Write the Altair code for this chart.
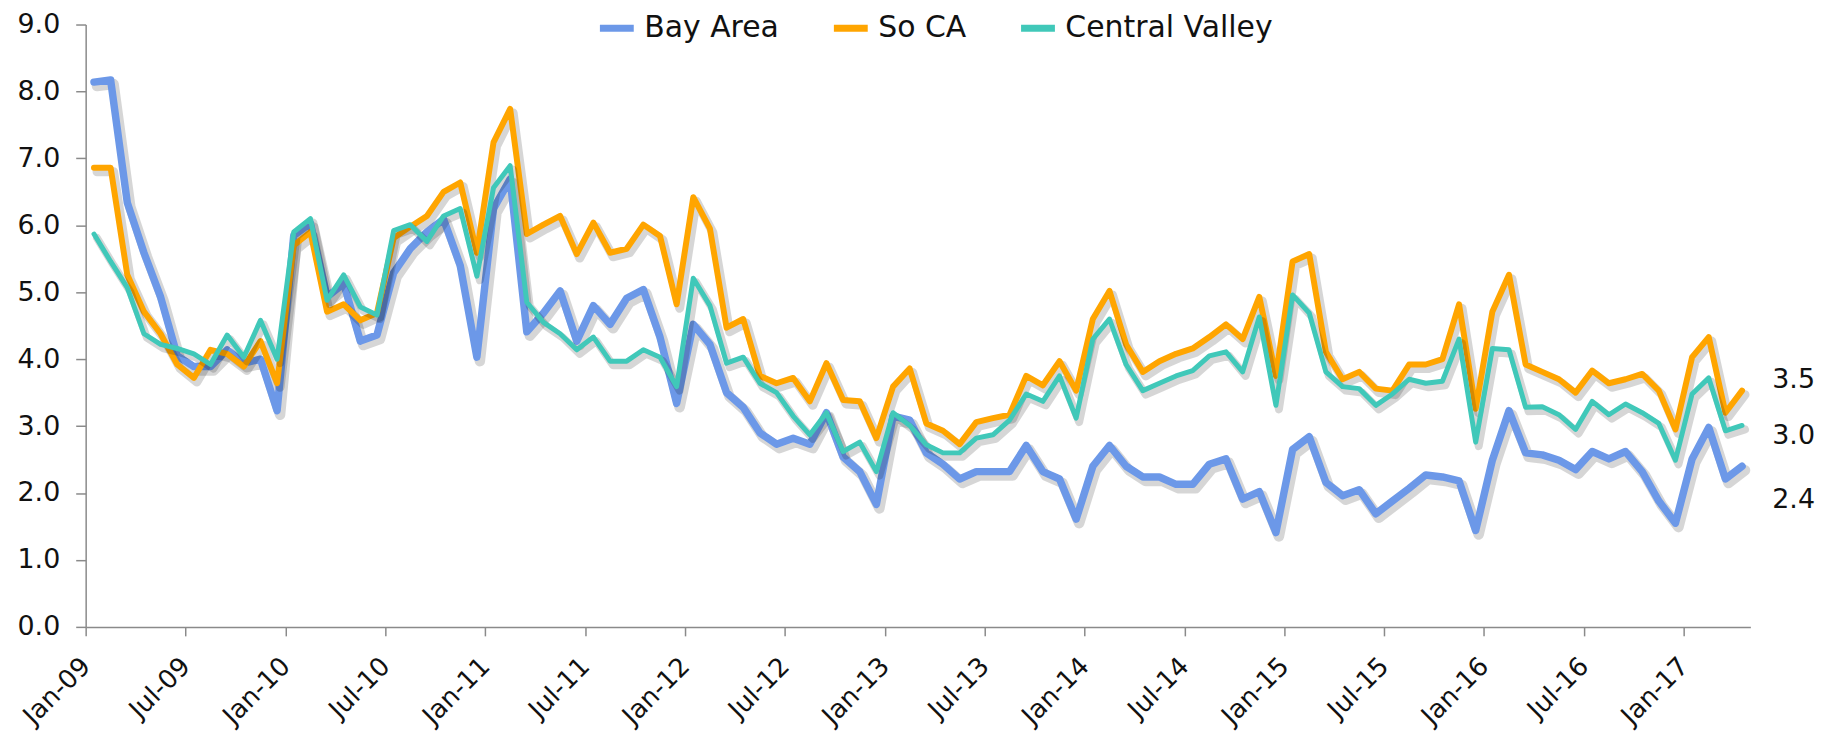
import json
import altair as alt
import pandas as pd

SERIES = ["Bay Area", "So CA", "Central Valley"]
COLORS = ["#6C98E8", "#FFA500", "#40C8B9"]
WIDTHS = [7.5, 6.0, 5.0]

BAY = [8.14, 8.17, 6.34, 5.59, 4.93, 4.05, 3.89, 3.89, 4.14, 3.94, 4.00, 3.23, 5.85, 6.03, 4.93, 5.13, 4.27,
       4.36, 5.29, 5.65, 5.90, 6.09, 5.40, 4.03, 6.25, 6.69, 4.41, 4.69, 5.02, 4.27, 4.80, 4.52, 4.91, 5.04,
       4.33, 3.34, 4.52, 4.22, 3.50, 3.28, 2.90, 2.73, 2.82, 2.73, 3.20, 2.54, 2.32, 1.83, 3.15, 3.09, 2.60,
       2.43, 2.21, 2.32, 2.32, 2.32, 2.71, 2.32, 2.21, 1.61, 2.40, 2.71, 2.40, 2.24, 2.24, 2.13, 2.13, 2.43,
       2.51, 1.91, 2.02, 1.41, 2.65, 2.84, 2.16, 1.96, 2.05, 1.69, 1.88, 2.07, 2.27, 2.24, 2.18, 1.44,
       2.49, 3.23, 2.60, 2.57, 2.49, 2.35, 2.62, 2.51, 2.62, 2.32, 1.88, 1.55, 2.51, 2.98, 2.21, 2.40]

SOCA = [6.86, 6.86, 5.26, 4.71, 4.38, 3.92, 3.72, 4.14, 4.08, 3.89, 4.27, 3.64, 5.70, 5.90, 4.71, 4.82, 4.58,
        4.69, 5.81, 5.98, 6.14, 6.50, 6.64, 5.59, 7.24, 7.74, 5.87, 6.01, 6.14, 5.57, 6.04, 5.59, 5.65, 6.01,
        5.84, 4.82, 6.42, 5.95, 4.47, 4.60, 3.75, 3.64, 3.72, 3.37, 3.94, 3.39, 3.37, 2.82, 3.59, 3.86, 3.04,
        2.93, 2.73, 3.06, 3.12, 3.17, 3.75, 3.61, 3.97, 3.53, 4.60, 5.02, 4.22, 3.81, 3.97, 4.08, 4.16, 4.33,
        4.52, 4.30, 4.93, 3.75, 5.46, 5.57, 4.11, 3.70, 3.81, 3.56, 3.53, 3.92, 3.92, 4.00, 4.82, 3.26,
        4.71, 5.26, 3.92, 3.81, 3.70, 3.50, 3.83, 3.64, 3.70, 3.78, 3.53, 2.95, 4.03, 4.33, 3.20, 3.53]

CV = [5.87, 5.46, 5.07, 4.38, 4.22, 4.16, 4.08, 3.92, 4.36, 4.03, 4.58, 4.00, 5.90, 6.10, 4.88, 5.26, 4.78,
      4.66, 5.92, 6.01, 5.76, 6.14, 6.25, 5.24, 6.56, 6.89, 4.85, 4.55, 4.38, 4.14, 4.33, 3.97, 3.97, 4.14,
      4.03, 3.59, 5.21, 4.80, 3.94, 4.03, 3.64, 3.50, 3.15, 2.87, 3.20, 2.62, 2.76, 2.32, 3.20, 3.01, 2.72,
      2.60, 2.60, 2.82, 2.87, 3.09, 3.48, 3.37, 3.75, 3.12, 4.30, 4.60, 3.92, 3.53, 3.64, 3.75, 3.83, 4.05,
      4.11, 3.81, 4.63, 3.31, 4.96, 4.69, 3.81, 3.59, 3.56, 3.31, 3.48, 3.70, 3.64, 3.67, 4.30, 2.76,
      4.16, 4.14, 3.28, 3.29, 3.17, 2.95, 3.37, 3.17, 3.33, 3.20, 3.04, 2.49, 3.48, 3.72, 2.93, 3.01]

TICK_LABELS = ["Jan-09", "Jul-09", "Jan-10", "Jul-10", "Jan-11", "Jul-11", "Jan-12", "Jul-12", "Jan-13",
               "Jul-13", "Jan-14", "Jul-14", "Jan-15", "Jul-15", "Jan-16", "Jul-16", "Jan-17"]

END_LABELS = ["3.5", "3.0", "2.4"]
END_VALUES = [3.5, 3.0, 2.4]
END_DY = [-13, 10, 34]

FONT = "DejaVu Sans"
AXIS_GRAY = "#8a8a8a"

rows = []
for name, vals in zip(SERIES, [BAY, SOCA, CV]):
    for i, v in enumerate(vals):
        rows.append({"series": name, "m": i + 0.5, "value": v})
df = pd.DataFrame(rows)

x_scale = alt.Scale(domain=[0, 100], nice=False, zero=False)
y_scale = alt.Scale(domain=[0, 9], nice=False, zero=True)

label_expr = json.dumps(TICK_LABELS) + "[round(datum.value / 6)]"
x_axis = alt.Axis(values=list(range(0, 97, 6)), labelExpr=label_expr, labelAngle=-45,
                  labelAlign="right", labelBaseline="middle", tickSize=9, labelPadding=26,
                  grid=False, title=None, domainColor=AXIS_GRAY, tickColor=AXIS_GRAY,
                  domainWidth=1.5, tickWidth=1.5,
                  labelFont=FONT, labelFontSize=26, labelColor="#111111", labelOverlap=False)
y_axis = alt.Axis(values=list(range(0, 10)), format=".1f", tickSize=10, labelPadding=16,
                  grid=False, title=None, domainColor=AXIS_GRAY, tickColor=AXIS_GRAY,
                  domainWidth=1.5, tickWidth=1.5,
                  labelFont=FONT, labelFontSize=27, labelColor="#111111")

color_scale = alt.Scale(domain=SERIES, range=COLORS)
legend = alt.Legend(orient="none", legendX=513, legendY=-17, direction="horizontal", title=None,
                    symbolType="stroke", symbolSize=1156, symbolStrokeWidth=7,
                    labelFont=FONT, labelFontSize=30, labelColor="#111111", labelOffset=7,
                    labelLimit=0, columnPadding=40, padding=0)

base = alt.Chart(df)
layers = []
for k, name in enumerate(SERIES):
    sub = base.transform_filter(alt.datum.series == name)
    shadow = sub.transform_calculate(
        xs="datum.m + 0.18", ys="datum.value - 0.06"
    ).mark_line(color="#000000", opacity=0.16, strokeWidth=WIDTHS[k] + 3,
                strokeCap="round", strokeJoin="round").encode(
        x=alt.X("xs:Q", scale=x_scale, axis=x_axis),
        y=alt.Y("ys:Q", scale=y_scale, axis=y_axis),
    )
    line = sub.mark_line(strokeWidth=WIDTHS[k], strokeCap="round", strokeJoin="round").encode(
        x=alt.X("m:Q", scale=x_scale, axis=x_axis),
        y=alt.Y("value:Q", scale=y_scale, axis=y_axis),
        color=alt.Color("series:N", scale=color_scale, legend=legend),
    )
    layers += [shadow, line]

end_df = pd.DataFrame({"label": END_LABELS, "v": END_VALUES})
for k in range(len(END_LABELS)):
    txt = alt.Chart(end_df).transform_filter(alt.datum.label == END_LABELS[k]).mark_text(
        align="left", baseline="middle", dy=END_DY[k], font=FONT, fontSize=27, color="#111111"
    ).encode(
        x=alt.value(1694),
        y=alt.Y("v:Q", scale=y_scale, axis=y_axis),
        text="label:N",
    )
    layers.append(txt)

chart = alt.layer(*layers).properties(
    width=1672, height=605,
    autosize=alt.AutoSizeParams(type="none"),
    padding={"left": 78, "top": 15, "right": 85, "bottom": 110},
    background="white",
).configure_view(stroke=None, strokeWidth=0)

chart.save("out.html", embed_options={"renderer": "svg", "actions": False})
